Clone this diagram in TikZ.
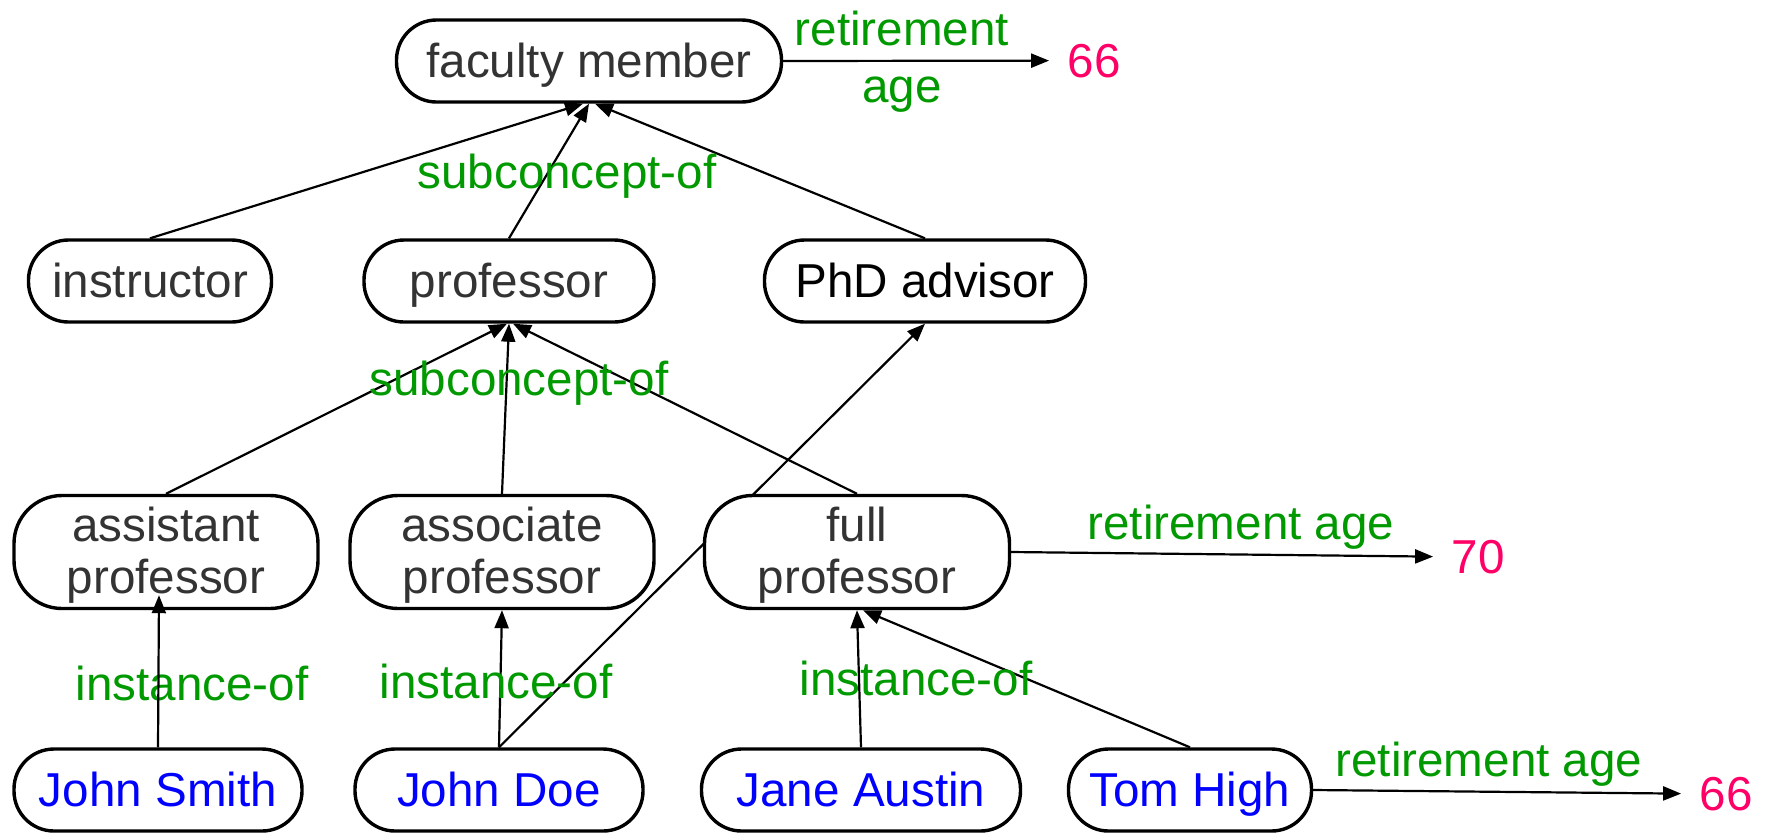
\documentclass[tikz,border=0pt]{standalone}
\usepackage{fontspec}
\setmainfont{Liberation Sans}
\usetikzlibrary{arrows.meta,backgrounds}
\definecolor{lblgreen}{HTML}{009900}
\definecolor{numpink}{HTML}{FF0066}
\definecolor{txtgray}{HTML}{333333}
\definecolor{instblue}{HTML}{0000FF}
\newcommand{\twol}[2]{\raisebox{-2.4pt}[\height][\depth]{\begin{tabular}{@{}c@{}}#1\\#2\end{tabular}}}
\begin{document}
\begin{tikzpicture}[x=0.5pt,y=-0.5pt,
  every node/.style={font=\fontsize{23.8pt}{26pt}\selectfont},
  box/.style={draw, line width=1.7pt, rounded corners=20pt, fill=white, inner sep=0pt, text=txtgray, minimum height=41pt},
  onebox/.style={box, text height=16pt, text depth=0pt},
  twobox/.style={box, minimum height=56.5pt, rounded corners=24pt},
  inst/.style={onebox, text=instblue},
  lbl/.style={text=lblgreen, anchor=base, inner sep=0pt},
  num/.style={text=numpink, anchor=base, inner sep=9pt},
  edge/.style={line width=1.1pt, -{Triangle[length=9pt,width=7pt]}},
]
\useasboundingbox (0,0) rectangle (1769,832);
% concept nodes
\node[onebox, minimum width=192.5pt] (fm) at (589,61) {faculty member};
\node[onebox, minimum width=121.5pt] (ins) at (150,281) {instructor};
\node[onebox, minimum width=145pt] (prof) at (509,281) {professor};
\node[onebox, minimum width=160.5pt, text=black] (phd) at (925,281) {PhD advisor};
\node[twobox, minimum width=152pt] (asst) at (166,552) {\twol{assistant}{professor}};
\node[twobox, minimum width=152pt] (assoc) at (502,552) {\twol{associate}{professor}};
\node[twobox, minimum width=152.5pt] (fp) at (857,552) {\twol{full}{professor}};
% instance nodes
\node[inst, minimum width=144pt] (js) at (158,790) {John Smith};
\node[inst, minimum width=144pt] (jd) at (499,790) {John Doe};
\node[inst, minimum width=159.5pt] (ja) at (861,790) {Jane Austin};
\node[inst, minimum width=121.5pt] (th) at (1190,790) {Tom High};
% values
\node[num] (v66a) at (1094,77) {66};
\node[num] (v70) at (1478,573) {70};
\node[num] (v66b) at (1726,810) {66};
% labels
\node[text=lblgreen, align=center, inner sep=0pt] (l1) at (902,62) {retirement\\[2.5pt]age};
\node[lbl] (l2) at (567,188) {subconcept-of};
\node[lbl] (l3) at (519,395) {subconcept-of};
\node[lbl] (l4) at (1241,539) {retirement age};
\node[lbl] (l5) at (192,700) {instance-of};
\node[lbl] (l6) at (496,698) {instance-of};
\node[lbl] (l7) at (916,695) {instance-of};
\node[lbl] (l8) at (1489,776) {retirement age};
% edges
\begin{scope}[on background layer]
\draw[edge] (ins.north) -- ([xshift=-3pt]fm.south);
\draw[edge] (prof.north) -- (fm.south);
\draw[edge] (phd.north) -- ([xshift=3pt]fm.south);
\draw[edge] (asst.north) -- ([xshift=-1pt]prof.south);
\draw[edge] (assoc.north) -- (prof.south);
\draw[edge] (fp.north) -- ([xshift=2pt]prof.south);
\draw[edge] (jd.north) -- (phd.south);
\draw[edge] (jd.north) -- (assoc.south);
\draw[edge] (ja.north) -- (fp.south);
\draw[edge] (th.north) -- ([xshift=3pt]fp.south);
\draw[edge] (fm.east) -- (v66a.west);
\draw[edge] (fp.east) -- (v70.west);
\draw[edge] (th.east) -- (v66b.west);
\end{scope}
\draw[edge] (js.north) -- ([xshift=-3.5pt,yshift=7.5pt]asst.south);
\end{tikzpicture}
\end{document}
